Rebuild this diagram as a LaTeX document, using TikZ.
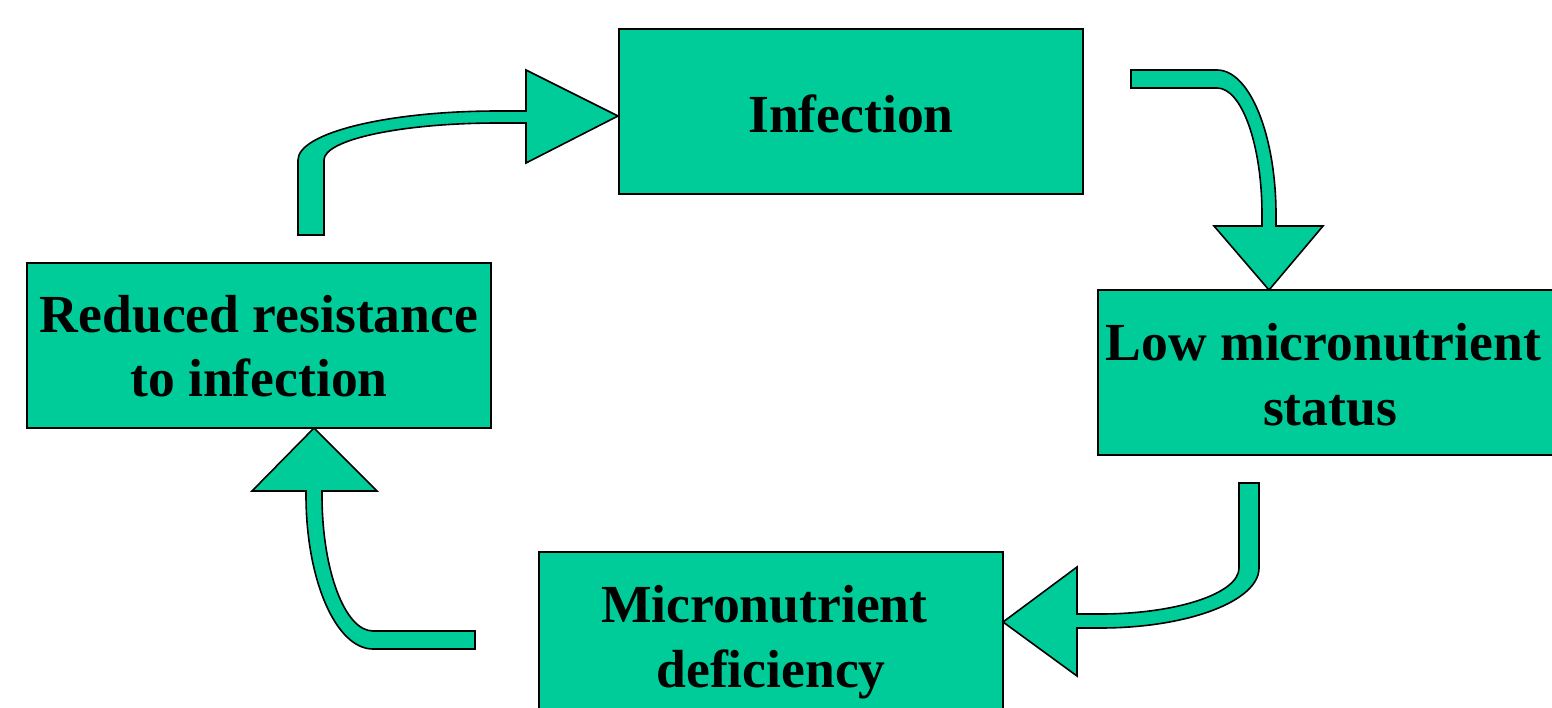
\documentclass[tikz,border=0pt]{standalone}
\usepackage{fontspec}
\setmainfont{Liberation Serif}
\definecolor{boxgreen}{HTML}{00CC99}
\begin{document}
\begin{tikzpicture}[x=0.5pt,y=-0.5pt,
  box/.style={draw=black,fill=boxgreen,line width=1pt,minimum width=232pt,minimum height=82.5pt,inner sep=0pt,outer sep=0pt},
  label/.style={inner sep=0pt,outer sep=0pt,align=center,font=\fontsize{26.8pt}{32.3pt}\selectfont\bfseries},
  blockarrow/.style={draw=black,fill=boxgreen,line width=0.8pt,line join=miter}]
\useasboundingbox (0,0) rectangle (1552,707);
% boxes
\node[box] (inf) at (851,111) {};
\node[box] (low) at (1330,372.5) {};
\node[box] (def) at (771,634.5) {};
\node[box] (red) at (259,345) {};
% labels
\node[label] (tinf) at (851,114) {Infection};
\node[label] (tlow) at (1330,375) {Low micronutrient\hspace*{0.25em}\\status};
\node[label] (tdef) at (771,642) {Micronutrient\hspace*{0.25em}\\deficiency};
\node[label] (tred) at (259,346) {Reduced resistance\\to infection};
% arrow red -> inf
\draw[blockarrow] (298,235) -- (298,160)
  arc[start angle=180,end angle=270,x radius=200,y radius=49]
  -- (526,111) -- (526,70) -- (618,116) -- (526,163) -- (526,123) -- (498,123)
  arc[start angle=270,end angle=180,x radius=174,y radius=37]
  -- (324,235) -- cycle;
% arrow inf -> low
\draw[blockarrow] (1131,70) -- (1217,70)
  arc[start angle=270,end angle=360,x radius=59,y radius=145]
  -- (1276,226) -- (1323,226) -- (1269,290) -- (1214,226) -- (1262,226) -- (1262,215)
  arc[start angle=0,end angle=-90,x radius=45,y radius=127]
  -- (1131,88) -- cycle;
% arrow low -> def
\draw[blockarrow] (1239,483) -- (1259,483) -- (1259,568)
  arc[start angle=0,end angle=90,x radius=159,y radius=60]
  -- (1077,628) -- (1077,676) -- (1003,622) -- (1077,567) -- (1077,614) -- (1100,614)
  arc[start angle=90,end angle=0,x radius=139,y radius=46]
  -- cycle;
% arrow def -> red
\draw[blockarrow] (475,631) -- (475,649) -- (373,649)
  arc[start angle=90,end angle=180,x radius=67,y radius=154]
  -- (306,491) -- (252,491) -- (314,428) -- (377,491) -- (322,491) -- (322,495)
  arc[start angle=180,end angle=90,x radius=51,y radius=136]
  -- cycle;
\end{tikzpicture}
\end{document}
